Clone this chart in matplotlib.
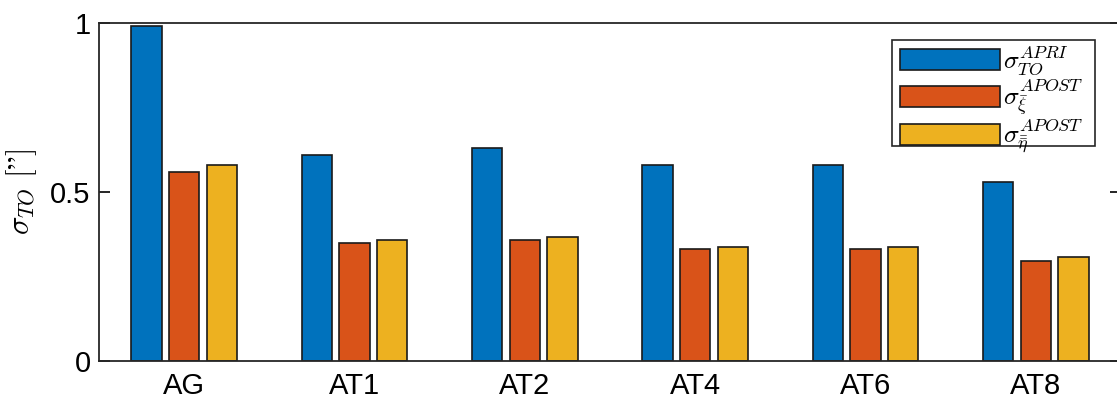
import matplotlib
matplotlib.use("Agg")
import matplotlib.pyplot as plt
from matplotlib.patches import Rectangle
import numpy as np

categories = ["AG", "AT1", "AT2", "AT4", "AT6", "AT8"]
apri = [0.99, 0.61, 0.63, 0.58, 0.58, 0.53]
apost_xi = [0.558, 0.348, 0.358, 0.33, 0.33, 0.297]
apost_eta = [0.58, 0.358, 0.368, 0.338, 0.338, 0.309]
labels = [r"$\sigma_{TO}^{APRI}$", r"$\sigma_{\bar{\xi}}^{APOST}$", r"$\sigma_{\bar{\bar{\eta}}}^{APOST}$"]
colors = ["#0072BD", "#D95319", "#EDB120"]
yticks = [0, 0.5, 1]
yticklabels = ["0", "0.5", "1"]

plt.rcParams["mathtext.fontset"] = "cm"
plt.rcParams["font.family"] = ["Liberation Sans", "DejaVu Sans"]

fig = plt.figure(figsize=(11.17, 4.03), dpi=100)
ax = fig.add_axes([99/1117, 1-361/403, (1121-99)/1117, (361-23)/403])

def axx(px):
    return (px - 99) / 1022

def axy(py):
    return (361 - py) / 338

x = np.arange(1, len(categories)+1)
off = 0.222
w = 0.178
for i, (vals, lab, c) in enumerate(zip([apri, apost_xi, apost_eta], labels, colors)):
    ax.bar(x + (i-1)*off, vals, width=w, color=c, edgecolor="#1a1a1a", linewidth=1.2, label=lab)

ax.set_xlim(0.5, 6.5)
ax.set_ylim(0, 1)
ax.set_xticks(x)
ax.set_xticklabels(categories, fontsize=21)
ax.set_yticks(yticks)
ax.set_yticklabels(yticklabels, fontsize=21)
ax.tick_params(axis="x", length=0, pad=8)
ax.tick_params(axis="y", direction="in", length=8, width=1.2, right=True, pad=6)
for s in ax.spines.values():
    s.set_linewidth(1.3)
    s.set_color("#262626")
ax.set_ylabel(r"$\sigma_{TO}\ [”]$", fontsize=22, labelpad=8)

# legend frame drawn as separate box
ax.add_patch(Rectangle((axx(892), axy(146)), axx(1095) - axx(892), axy(40) - axy(146),
                       transform=ax.transAxes, facecolor="white", edgecolor="#262626",
                       linewidth=1.2, zorder=4))
leg = ax.legend(loc="upper left", bbox_to_anchor=(axx(900), axy(45)),
                fontsize=18.5, handlelength=3.9, handleheight=0.88, frameon=False,
                borderpad=0, labelspacing=0.0, handletextpad=0.12, borderaxespad=0)
leg.set_zorder(5)

fig.savefig("out.png", dpi=100)
